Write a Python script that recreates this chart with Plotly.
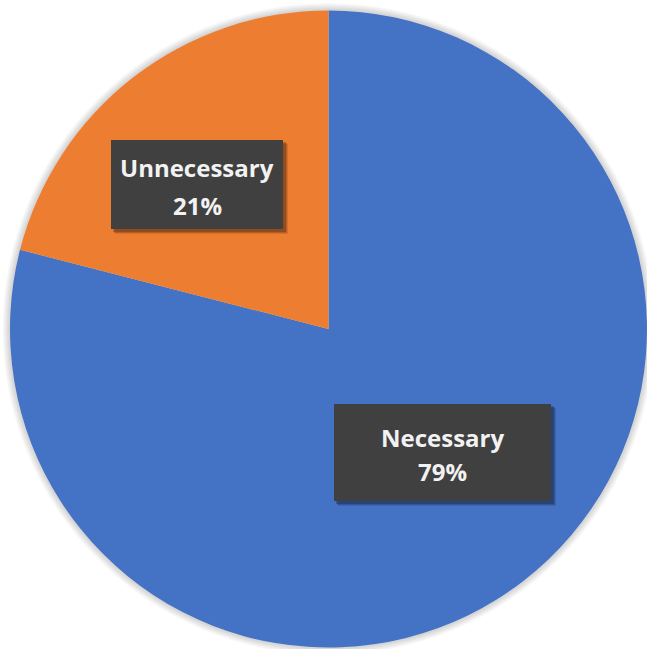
import plotly.graph_objects as go

# Survey split
labels = ["Necessary", "Unnecessary"]
values = [79, 21]
colors = ["#4472C4", "#ED7D31"]

W, H = 647, 649
total = sum(values)


def px(x):
    return x / W


def py(y):
    return 1 - y / H


fig = go.Figure(
    go.Pie(
        labels=labels,
        values=values,
        sort=False,
        direction="clockwise",
        rotation=0,
        textinfo="none",
        marker=dict(colors=colors, line=dict(width=0)),
        domain=dict(x=[px(10), 1], y=[py(649), py(9)]),
        showlegend=False,
    )
)

shapes = []
# soft halo around the pie
cx, cy, r = 328.5, 329, 319
for k in range(1, 8):
    shapes.append(dict(
        type="circle", xref="paper", yref="paper", layer="below",
        x0=px(cx - r - k), x1=px(cx + r + k), y0=py(cy + r + k), y1=py(cy - r - k),
        fillcolor="rgba(0,0,0,0.025)", line=dict(width=0),
    ))

# label boxes: (x0, y0, x1, y1) in pixels, with line centres
boxes = {
    "Unnecessary": dict(box=(111, 140, 283, 229), lines=(167, 205)),
    "Necessary": dict(box=(334, 404, 551, 501), lines=(437, 471)),
}

annotations = []
for lab, val in zip(labels, values):
    b = boxes[lab]
    x0, y0, x1, y1 = b["box"]
    # soft drop shadow
    for off, alpha in ((5, 0.10), (4, 0.15), (3, 0.20)):
        shapes.append(dict(
            type="rect", xref="paper", yref="paper", layer="above",
            x0=px(x0 + off - 1), x1=px(x1 + off), y0=py(y1 + off), y1=py(y0 + off - 1),
            fillcolor=f"rgba(0,0,0,{alpha})", line=dict(width=0),
        ))
    shapes.append(dict(
        type="rect", xref="paper", yref="paper", layer="above",
        x0=px(x0), x1=px(x1), y0=py(y1), y1=py(y0),
        fillcolor="#404040", line=dict(width=0),
    ))
    xc = (x0 + x1) / 2
    pct = f"{round(val / total * 100)}%"
    for txt, ly in zip((lab, pct), b["lines"]):
        annotations.append(dict(
            x=px(xc), y=py(ly), xref="paper", yref="paper",
            xanchor="center", yanchor="middle", showarrow=False,
            text=f"<b>{txt}</b>",
            font=dict(family="Open Sans", size=24, color="#F2F2F2"),
        ))

fig.update_layout(
    width=W, height=H,
    margin=dict(l=0, r=0, t=0, b=0),
    paper_bgcolor="white",
    plot_bgcolor="white",
    shapes=shapes,
    annotations=annotations,
)

fig.write_html("out.html")
